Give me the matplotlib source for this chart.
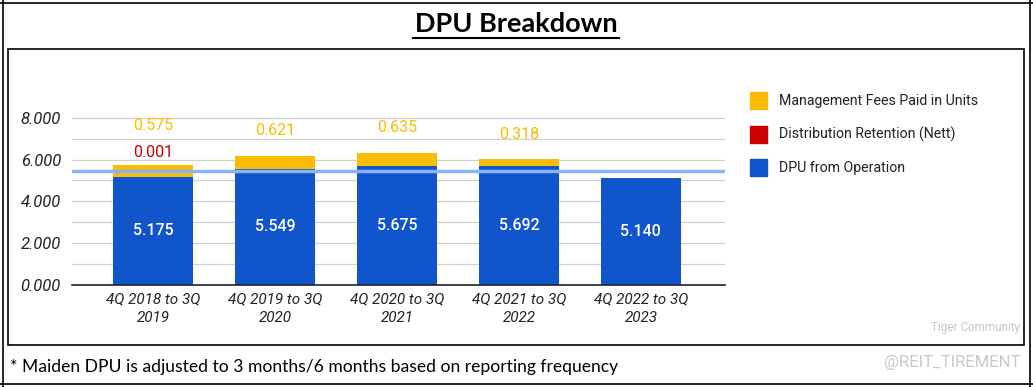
import matplotlib
matplotlib.use("Agg")
from matplotlib import pyplot as plt
from matplotlib.lines import Line2D
from matplotlib.patches import Rectangle

periods = ["4Q 2018 to 3Q\n2019", "4Q 2019 to 3Q\n2020", "4Q 2020 to 3Q\n2021",
           "4Q 2021 to 3Q\n2022", "4Q 2022 to 3Q\n2023"]
dpu_operation = [5.175, 5.549, 5.675, 5.692, 5.140]
retention = [0.001, 0.0, 0.0, 0.0, 0.0]
mgmt_fees = [0.575, 0.621, 0.635, 0.318, 0.0]
average_dpu = sum(dpu_operation) / len(dpu_operation)

BLUE = "#1155cc"
RED = "#cc0000"
YELLOW = "#fbbc04"

plt.rcParams['font.family'] = ['Roboto', 'DejaVu Sans']

fig = plt.figure(figsize=(10.33, 3.87), dpi=100)

# frames
fig.add_artist(Line2D([0, 1], [1 - 3 / 387, 1 - 3 / 387], color="black", lw=1.2))
fig.add_artist(Line2D([3 / 1033, 3 / 1033], [0, 1], color="black", lw=1.2))
fig.add_artist(Line2D([1030 / 1033, 1030 / 1033], [0, 1], color="black", lw=1.2))
fig.add_artist(Line2D([0, 1], [1 - 384 / 387, 1 - 384 / 387], color="black", lw=1.2))
fig.add_artist(Rectangle((8 / 1033, 1 - 345 / 387), 1016 / 1033, 296 / 387,
                         fill=False, edgecolor="black", lw=1.2))

fig.text(0.5, 1 - 24 / 387, "DPU Breakdown", ha="center", va="center",
         fontsize=19.5, fontweight="bold", family=["Lato", "DejaVu Sans"])
fig.add_artist(Line2D([413 / 1033, 619 / 1033], [1 - 38 / 387, 1 - 38 / 387],
                      color="black", lw=1.5))

ax = fig.add_axes([72 / 1033, 1 - 285 / 387, 653 / 1033, (285 - 101) / 387])
x = list(range(len(periods)))
w = 0.66
bottom2 = [a + b for a, b in zip(dpu_operation, retention)]
ax.bar(x, dpu_operation, width=w, color=BLUE, zorder=3)
ax.bar(x, retention, width=w, bottom=dpu_operation, color=RED, zorder=3)
ax.bar(x, mgmt_fees, width=w, bottom=bottom2, color=YELLOW, zorder=3)
ax.axhline(average_dpu, color="#8ab4f8", lw=2.5, zorder=4)

for i, v in enumerate(dpu_operation):
    ax.text(i, v / 2, "%.3f" % v, ha="center", va="center", color="white",
            fontsize=11.5, fontweight="medium", zorder=5)
for i in range(len(periods)):
    top = dpu_operation[i] + retention[i] + mgmt_fees[i]
    if retention[i] > 0:
        ax.text(i, top + 0.6, "%.3f" % retention[i], ha="center", va="center",
                color=RED, fontsize=11.5)
        ax.text(i, top + 1.9, "%.3f" % mgmt_fees[i], ha="center", va="center",
                color=YELLOW, fontsize=11.5)
    elif mgmt_fees[i] > 0:
        ax.text(i, top + 1.2, "%.3f" % mgmt_fees[i], ha="center", va="center",
                color=YELLOW, fontsize=11.5)

ax.set_xlim(-0.664, 4.69)
ax.set_ylim(0, 8.8)
ax.set_yticks([0, 2, 4, 6, 8])
ax.set_yticklabels(["%.3f" % t for t in [0, 2, 4, 6, 8]], fontstyle="italic",
                   fontsize=12, color="#222222")
ax.set_yticks([1, 3, 5, 7], minor=True)
ax.set_xticks(x)
ax.set_xticklabels(periods, fontstyle="italic", fontsize=11, color="#222222",
                   linespacing=1.45)
ax.tick_params(axis="both", which="both", length=0)
ax.tick_params(axis="y", pad=8)
ax.tick_params(axis="x", pad=5)
ax.grid(axis="y", which="both", color="#d0d0d0", lw=0.9, zorder=0)
for s in ["top", "right", "left"]:
    ax.spines[s].set_visible(False)
ax.spines["bottom"].set_color("#222222")
ax.spines["bottom"].set_linewidth(1.2)
ax.spines["bottom"].set_zorder(6)

# legend
legend_items = [("Management Fees Paid in Units", YELLOW),
                ("Distribution Retention (Nett)", RED),
                ("DPU from Operation", BLUE)]
for k, (label, col) in enumerate(legend_items):
    yy = 1 - (101 + 33.5 * k) / 387
    fig.add_artist(Rectangle((750 / 1033, yy - 8 / 387), 17 / 1033, 17 / 387,
                             color=col, transform=fig.transFigure))
    fig.text(779 / 1033, yy, label, ha="left", va="center", fontsize=10.2,
             color="#222222")

fig.text(10 / 1033, 1 - 367 / 387, "* Maiden DPU is adjusted to 3 months/6 months based on reporting frequency",
         ha="left", va="center", fontsize=12.6, family=["Lato", "DejaVu Sans"])
fig.text(1020 / 1033, 1 - 328 / 387, "Tiger Community", ha="right", va="center",
         fontsize=8.5, color="#c8c8c8")
fig.text(1020 / 1033, 1 - 362 / 387, "@REIT_TIREMENT", ha="right", va="center",
         fontsize=12, color="#c8c8c8")

fig.savefig("out.png", dpi=100)
